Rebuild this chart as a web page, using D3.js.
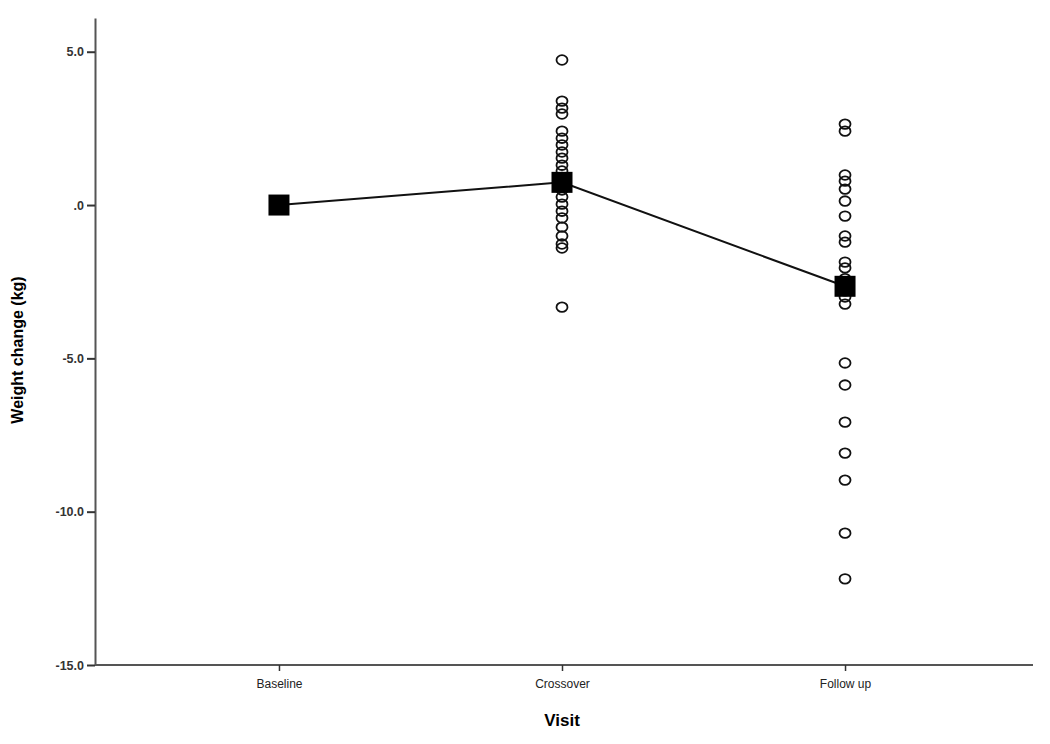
<!DOCTYPE html>
<html>
<head>
<meta charset="utf-8">
<script src="https://cdn.jsdelivr.net/npm/d3@7"></script>
<style>
  body { margin: 0; background: #fff; }
  text { font-family: "Liberation Sans", Arial, sans-serif; }
</style>
</head>
<body>
<div class="chart"></div>
<script>
// visits on the x axis
var visits = ["Baseline", "Crossover", "Follow up"];
// mean weight change at each visit
var means = [0.0, 0.74, -2.65];
// individual weight changes (kg)
var crossoverValues = [4.73, 3.39, 3.16, 2.97, 2.41, 2.18, 1.96, 1.73, 1.53, 1.30, 1.11,
                       0.9, 0.6, 0.49, 0.26, 0.03, -0.20, -0.42, -0.72, -1.01, -1.27, -1.40, -3.33];
var followUpValues = [2.64, 2.41, 0.98, 0.78, 0.52, 0.13, -0.36, -1.01, -1.21, -1.86, -2.05,
                      -2.4, -2.8, -3.0, -3.23, -5.15, -5.87, -7.08, -8.09, -8.97, -10.70, -12.19];
var yTicks = [5, 0, -5, -10, -15];
var yTickLabels = ["5.0", ".0", "-5.0", "-10.0", "-15.0"];

var width = 1050, height = 744;
var margin = { left: 95, right: 1033, top: 18, bottom: 665 };

var svg = d3.select(".chart")
  .append("svg")
    .attr("width", width)
    .attr("height", height);

var x = d3.scalePoint()
  .domain(visits)
  .range([margin.left, margin.right - 4])
  .padding(0.65);

var y = d3.scaleLinear()
  .domain([-15, 6.1])
  .range([margin.bottom, margin.top]);

// axes
var yAxis = svg.append("g")
  .attr("transform", "translate(" + margin.left + ",0)")
  .call(d3.axisLeft(y).tickValues(yTicks)
    .tickFormat(function(d, i) { return yTickLabels[i]; })
    .tickSize(8).tickPadding(3).tickSizeOuter(0));
yAxis.select(".domain").attr("stroke", "#555").attr("stroke-width", 2);
yAxis.selectAll(".tick line").attr("stroke", "#333").attr("stroke-width", 2);
yAxis.selectAll(".tick text")
  .style("font-size", "12.5px").style("font-weight", "bold").attr("fill", "#333");

var xAxis = svg.append("g")
  .attr("transform", "translate(0," + margin.bottom + ")")
  .call(d3.axisBottom(x).tickSize(6).tickPadding(8).tickSizeOuter(0));
xAxis.select(".domain").attr("d", "M" + margin.left + ",0H" + margin.right)
  .attr("stroke", "#555").attr("stroke-width", 2);
xAxis.selectAll(".tick line").attr("stroke", "#333").attr("stroke-width", 1.5);
xAxis.selectAll(".tick text").style("font-size", "12px").attr("fill", "#222");

// axis titles
svg.append("text")
  .attr("x", x("Crossover"))
  .attr("y", 726)
  .attr("text-anchor", "middle")
  .style("font-size", "17px")
  .style("font-weight", "bold")
  .text("Visit");

svg.append("text")
  .attr("transform", "translate(23," + 350 + ") rotate(-90)")
  .attr("text-anchor", "middle")
  .style("font-size", "16px")
  .style("font-weight", "bold")
  .text("Weight change (kg)");

// individual points
var pts = crossoverValues.map(function(v) { return { visit: "Crossover", value: v }; })
  .concat(followUpValues.map(function(v) { return { visit: "Follow up", value: v }; }));

svg.selectAll(".pt")
  .data(pts)
  .enter().append("ellipse")
    .attr("class", "pt")
    .attr("cx", function(d) { return x(d.visit); })
    .attr("cy", function(d) { return y(d.value); })
    .attr("rx", 5.5)
    .attr("ry", 4.8)
    .style("fill", "none")
    .style("stroke", "#111")
    .style("stroke-width", 1.8);

// mean line
var meanData = visits.map(function(v, i) { return { visit: v, value: means[i] }; });
svg.append("path")
  .datum(meanData)
  .attr("d", d3.line()
    .x(function(d) { return x(d.visit); })
    .y(function(d) { return y(d.value); }))
  .style("fill", "none")
  .style("stroke", "#111")
  .style("stroke-width", 2);

var sq = 21;
svg.selectAll(".mean")
  .data(meanData)
  .enter().append("rect")
    .attr("class", "mean")
    .attr("x", function(d) { return x(d.visit) - sq / 2; })
    .attr("y", function(d) { return y(d.value) - sq / 2; })
    .attr("width", sq)
    .attr("height", sq)
    .style("fill", "#000");
</script>
</body>
</html>
